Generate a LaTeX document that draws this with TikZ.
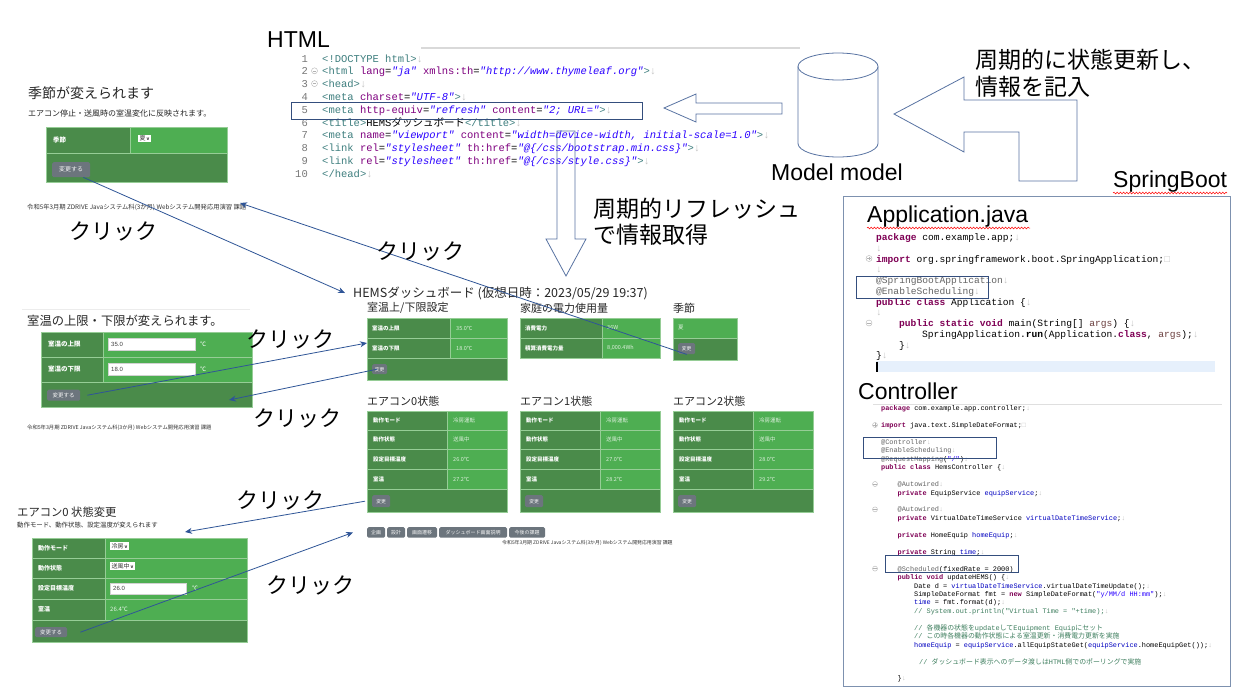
\documentclass[tikz,border=0pt]{standalone}
\usepackage{fontspec}
\setmainfont{Liberation Sans}
\newfontfamily\cjk{Noto Sans CJK JP}
\newfontfamily\code{Liberation Mono}
\usetikzlibrary{positioning, arrows.meta, calc, decorations.pathmorphing}
\definecolor{gdark}{RGB}{74,139,74}
\definecolor{glight}{RGB}{78,174,82}
\definecolor{cellline}{RGB}{150,205,150}
\definecolor{btngray}{RGB}{108,117,125}
\definecolor{clickblue}{RGB}{47,85,151}
\definecolor{arrowline}{RGB}{88,115,162}
\definecolor{boxblue}{RGB}{52,78,125}
\definecolor{framegray}{RGB}{125,145,175}
\definecolor{kwc}{RGB}{127,0,85}
\definecolor{annc}{RGB}{100,100,100}
\definecolor{fieldc}{RGB}{0,0,192}
\definecolor{strc}{RGB}{42,0,255}
\definecolor{cmtc}{RGB}{63,127,95}
\definecolor{tagc}{RGB}{63,127,127}
\definecolor{attrc}{RGB}{127,0,127}
\definecolor{parc}{RGB}{106,62,62}
\definecolor{eolgray}{RGB}{195,195,195}
\definecolor{numgray}{RGB}{120,120,120}
\definecolor{cursorblue}{RGB}{230,240,252}
\newcommand\jp[1]{{\cjk #1}}
\newcommand\eol{\textcolor{eolgray}{↓}}
\newcommand\imbox{\textcolor{eolgray}{□}}
\newcommand\htag[1]{\textcolor{tagc}{#1}}
\newcommand\hkey[1]{\textcolor{attrc}{#1}}
\newcommand\hval[1]{\textcolor{strc}{\itshape #1}}
\newcommand\jkw[1]{\textcolor{kwc}{\bfseries #1}}
\newcommand\jan[1]{\textcolor{annc}{#1}}
\newcommand\jfd[1]{\textcolor{fieldc}{#1}}
\newcommand\jst[1]{\textcolor{strc}{#1}}
\newcommand\jcm[1]{\textcolor{cmtc}{#1}}
\newcommand\jpar[1]{\textcolor{parc}{#1}}
\newcommand\chev{{\fontsize{4.5}{5}\selectfont\bfseries v}}
\tikzset{
  bigtxt/.style={font=\fontsize{23}{26}\selectfont, inner sep=0pt, anchor=base west},
  jtxt/.style={font=\cjk\fontsize{23}{27}\selectfont, inner sep=0pt, anchor=west},
  click/.style={font=\cjk\fontsize{22}{26}\selectfont, inner sep=0pt},
  clk/.style={draw=clickblue, line width=0.8pt, -{Stealth[length=7pt, width=6pt]}},
  hollow/.style={draw=arrowline, line width=0.8pt, fill=white},
  hilite/.style={draw=boxblue, line width=0.9pt},
  html/.style={font=\code\fontsize{10.5}{12}\selectfont, anchor=base west, inner sep=0pt},
  lno/.style={html, anchor=base east, text=numgray},
  japp/.style={font=\code\fontsize{9.6}{11}\selectfont, anchor=base west, inner sep=0pt},
  jctl/.style={font=\code\fontsize{6.9}{8}\selectfont, anchor=base west, inner sep=0pt},
  fold/.style={circle, draw=gray!60, line width=0.4pt, inner sep=0pt, minimum size=#1,
    path picture={\draw[gray!60, line width=0.4pt] ([xshift=-1.6pt]path picture bounding box.center) -- ([xshift=1.6pt]path picture bounding box.center);}},
  foldp/.style={circle, draw=gray!60, line width=0.4pt, inner sep=0pt, minimum size=#1,
    path picture={\draw[gray!60, line width=0.4pt] ([xshift=-1.6pt]path picture bounding box.center) -- ([xshift=1.6pt]path picture bounding box.center)
      ([yshift=-1.6pt]path picture bounding box.center) -- ([yshift=1.6pt]path picture bounding box.center);}},
  hcell/.style={draw=cellline, line width=0.5pt, fill=gdark},
  vcell/.style={draw=cellline, line width=0.5pt, fill=glight},
  ptitle/.style={anchor=west, inner sep=0pt, text=black!85},
  sec/.style={anchor=west, inner sep=0pt, text=black!85, font=\cjk\fontsize{11}{13}\selectfont},
  foot/.style={anchor=west, inner sep=0pt, text=black!80},
  lhtx/.style={anchor=west, inner sep=0pt, text=white, font=\cjk\bfseries\fontsize{6.5}{7}\selectfont},
  lvtx/.style={anchor=west, inner sep=0pt, text=white!85!glight, font=\cjk\fontsize{6}{7}\selectfont},
  dhtx/.style={anchor=west, inner sep=0pt, text=white, font=\cjk\bfseries\fontsize{5.5}{6}\selectfont},
  dvtx/.style={anchor=west, inner sep=0pt, text=white!80!glight, font=\cjk\fontsize{5.5}{6}\selectfont},
  unit/.style={anchor=west, inner sep=0pt, text=white, font=\cjk\fontsize{6}{7}\selectfont},
  inbox/.style={draw=gray!35, fill=white, anchor=north west, inner xsep=3pt, inner ysep=0pt, align=left, text=black!75, font=\fontsize{6}{7}\selectfont},
  selbox/.style={fill=white, anchor=north west, inner xsep=1.5pt, inner ysep=1pt, text=black!80, font=\cjk\fontsize{6}{7}\selectfont},
  btn/.style={fill=btngray, rounded corners=1.5pt, text=white!92!gray, anchor=north west, inner sep=0pt, font=\cjk\fontsize{5.5}{6}\selectfont},
  squiggle/.style={draw=red, line width=0.5pt, decorate, decoration={snake, amplitude=0.9pt, segment length=3.2pt}}
}
\begin{document}
\begin{tikzpicture}[x=1pt, y=-1pt]
\fill[white] (0,0) rectangle (1237,691);
\useasboundingbox (0,0) rectangle (1237,691);

% HTML source
\node[bigtxt] (htmlLbl) at (267,47) {HTML};
\draw[gray!30, line width=1.5pt] (421,48) -- (800,48);
\foreach \i in {1,...,10}
  \node[lno] (hn\i) at (308,{49.2+12.8*\i}) {\i};
\node[fold=6pt] (hf2) at (314.5,70.8) {};
\node[fold=6pt] (hf3) at (314.5,83.6) {};
\node[html] (hl1) at (322,62) {\htag{<!DOCTYPE html>}\eol};
\node[html] (hl2) at (322,74.8) {\htag{<html} \hkey{lang}=\hval{"ja"} \hkey{xmlns:th}=\hval{"http://www.thymeleaf.org"}\htag{>}\eol};
\node[html] (hl3) at (322,87.6) {\htag{<head>}\eol};
\node[html] (hl4) at (322,100.4) {\htag{<meta} \hkey{charset}=\hval{"UTF-8"}\htag{>}\eol};
\node[html] (hl5) at (322,113.2) {\htag{<meta} \hkey{http-equiv}=\hval{"refresh"} \hkey{content}=\hval{"2; URL="}\htag{>}\eol};
\node[html] (hl6) at (322,126) {\htag{<title>}HEMS\jp{ダッシュボード}\htag{</title>}\eol};
\node[html] (hl7) at (322,138.8) {\htag{<meta} \hkey{name}=\hval{"viewport"} \hkey{content}=\hval{"width=device-width, initial-scale=1.0"}\htag{>}\eol};
\node[html] (hl8) at (322,151.6) {\htag{<link} \hkey{rel}=\hval{"stylesheet"} \hkey{th:href}=\hval{"@\{/css/bootstrap.min.css\}"}\htag{>}\eol};
\node[html] (hl9) at (322,164.4) {\htag{<link} \hkey{rel}=\hval{"stylesheet"} \hkey{th:href}=\hval{"@\{/css/style.css\}"}\htag{>}\eol};
\node[html] (hl10) at (322,177.2) {\htag{</head>}\eol};
\draw[hilite] (291,102) rectangle (642,119);

% block arrows and the model
\draw[hollow, fill=none] (557,131) -- (575,131) -- (575,239) -- (586,239) -- (566,276) -- (546,239) -- (557,239) -- cycle;
\draw[hollow] (664,108) -- (696,94) -- (696,103) -- (782,103) -- (782,114) -- (696,114) -- (696,122) -- cycle;
\draw[hollow] (798,66.5) -- (798,143.5) arc[start angle=180, end angle=360, x radius=40pt, y radius=13.5pt] -- (878,66.5);
\draw[hollow] (838,66.5) ellipse [x radius=40pt, y radius=13.5pt];
\node[bigtxt] (modelLbl) at (771,180) {Model model};
\draw[hollow] (894,114) -- (964,77) -- (964,100) -- (1077,100) -- (1077,181) -- (1019,181) -- (1019,132) -- (964,132) -- (964,152) -- cycle;
\node[jtxt] (updLbl1) at (975,60) {周期的に状態更新し、};
\node[jtxt] (updLbl2) at (975,87) {情報を記入};
\node[jtxt] (refLbl1) at (593,209) {周期的リフレッシュ};
\node[jtxt] (refLbl2) at (593,235) {で情報取得};

% SpringBoot side
\node[bigtxt] (springLbl) at (1113,187) {SpringBoot};
\draw[squiggle] (1113,193) -- (1227,193);
\draw[framegray, line width=1pt] (843,196) rectangle (1230,686);
\node[bigtxt] (appLbl) at (867,222) {Application.java};
\draw[squiggle] (867,228) -- (1030,228);
\node[japp] (ap0) at (876,240.5) {\jkw{package} com.example.app;\eol};
\node[japp] (ap1) at (876,251.3) {\eol};
\node[foldp=6pt] (apf2) at (869,258.5) {};
\node[japp] (ap2) at (876,262) {\jkw{import} org.springframework.boot.SpringApplication;\imbox};
\node[japp] (ap3) at (876,272.8) {\eol};
\node[japp] (ap4) at (876,283.5) {\jan{@SpringBootApplication}\eol};
\node[japp] (ap5) at (876,294.3) {\jan{@EnableScheduling}\eol};
\node[japp] (ap6) at (876,305) {\jkw{public class} Application \{\eol};
\node[japp] (ap7) at (876,315.8) {\eol};
\node[fold=6pt] (apf8) at (869,323) {};
\node[japp] (ap8) at (899,326.5) {\jkw{public static void} main(String[] \jpar{args}) \{\eol};
\node[japp] (ap9) at (922,337.3) {SpringApplication.\textbf{run}(Application.\jkw{class}, \jpar{args});\eol};
\node[japp] (ap10) at (899,348) {\}\eol};
\node[japp] (ap11) at (876,358.8) {\}\eol};
\fill[cursorblue] (876,361) rectangle (1215,372);
\draw[black, line width=1.2pt] (877,361.5) -- (877,371.5);
\draw[hilite] (856,276) rectangle (988,298);

\node[bigtxt] (ctlLbl) at (858,399) {Controller};
\draw[gray!25, line width=0.8pt] (873,404) -- (1222,404);
\node[jctl] (ct0) at (881,410.5) {\jkw{package} com.example.app.controller;\eol};
\node[foldp=5pt] (ctf2) at (875,425) {};
\node[jctl] (ct2) at (881,427.4) {\jkw{import} java.text.SimpleDateFormat;\imbox};
\node[jctl] (ct4) at (881,444.3) {\jan{@Controller}\eol};
\node[jctl] (ct5) at (881,452.8) {\jan{@EnableScheduling}\eol};
\node[jctl] (ct6) at (881,461.2) {\jan{@RequestMapping}(\jst{"/"})\eol};
\node[jctl] (ct7) at (881,469.7) {\jkw{public class} HemsController \{\eol};
\node[fold=5pt] (ctf9) at (875,484) {};
\node[jctl] (ct9) at (897.5,486.5) {\jan{@Autowired}\eol};
\node[jctl] (ct10) at (897.5,495) {\jkw{private} EquipService \jfd{equipService};\eol};
\node[fold=5pt] (ctf12) at (875,509.4) {};
\node[jctl] (ct12) at (897.5,511.9) {\jan{@Autowired}\eol};
\node[jctl] (ct13) at (897.5,520.4) {\jkw{private} VirtualDateTimeService \jfd{virtualDateTimeService};\eol};
\node[jctl] (ct15) at (897.5,537.3) {\jkw{private} HomeEquip \jfd{homeEquip};\eol};
\node[jctl] (ct17) at (897.5,554.2) {\jkw{private} String \jfd{time};\eol};
\node[fold=5pt] (ctf19) at (875,568.6) {};
\node[jctl] (ct19) at (897.5,571.1) {\jan{@Scheduled}(fixedRate = 2000)};
\node[jctl] (ct20) at (897.5,579.5) {\jkw{public void} updateHEMS() \{\eol};
\node[jctl] (ct21) at (914,588) {Date d = \jfd{virtualDateTimeService}.virtualDateTimeUpdate();\eol};
\node[jctl] (ct22) at (914,596.4) {SimpleDateFormat fmt = \jkw{new} SimpleDateFormat(\jst{"y/MM/d HH:mm"});\eol};
\node[jctl] (ct23) at (914,604.9) {\jfd{time} = fmt.format(d);\eol};
\node[jctl] (ct24) at (914,613.3) {\jcm{// System.out.println("Virtual Time = "+time);}\eol};
\node[jctl] (ct26) at (914,630.2) {\jcm{// \jp{各機器の状態を}update\jp{して}Equipment Equip\jp{にセット}}};
\node[jctl] (ct27) at (914,638.7) {\jcm{// \jp{この時各機器の動作状態による室温更新・消費電力更新を実施}}};
\node[jctl] (ct28) at (914,647.1) {\jfd{homeEquip} = \jfd{equipService}.allEquipStateGet(\jfd{equipService}.homeEquipGet());\eol};
\node[jctl] (ct30) at (919,664) {\jcm{// \jp{ダッシュボード表示へのデータ渡しは}HTML\jp{側でのポーリングで実施}}};
\node[jctl] (ct32) at (897.5,680.9) {\}\eol};
\draw[hilite] (863,437) rectangle (996,458);
\draw[hilite] (885,555) rectangle (1018,572);

% season change page
\node[ptitle, font=\cjk\fontsize{14}{16}\selectfont] (seasonTitle) at (28,93.5) {季節が変えられます};
\node[ptitle, font=\cjk\fontsize{8}{9}\selectfont] (seasonSub) at (28,113.5) {エアコン停止・送風時の室温変化に反映されます。};
\path[hcell] (46,127) rectangle (130,153);
\path[vcell] (130,127) rectangle (227,153);
\path[hcell] (46,153) rectangle (227,182);
\node[lhtx] (seasonHd) at (53,140) {季節};
\node[selbox] (seasonSel) at (138,135) {夏\,\chev};
\node[btn, minimum width=38pt, minimum height=15pt, font=\cjk\fontsize{6}{7}\selectfont] (btnSeason) at (52,162) {変更する};
\node[foot, font=\cjk\fontsize{6.3}{7}\selectfont] (footA) at (27,207) {令和5年3月期 ZDRIVE Javaシステム科(3か月) Webシステム開発応用演習 課題};

% temperature limit page
\draw[gray!15, line width=0.6pt] (22,309) -- (250,309);
\node[ptitle, font=\cjk\fontsize{12.3}{14}\selectfont] (tempTitle) at (27,321) {室温の上限・下限が変えられます。};
\path[hcell] (41,332) rectangle (103,357);
\path[vcell] (103,332) rectangle (252,357);
\path[hcell] (41,357) rectangle (103,382);
\path[vcell] (103,357) rectangle (252,382);
\path[hcell] (41,382) rectangle (252,407);
\node[lhtx] (tmaxHd) at (48,344.5) {室温の上限};
\node[lhtx] (tminHd) at (48,369.5) {室温の下限};
\node[inbox, text width=81pt, minimum height=12pt] (tmaxIn) at (108,338) {35.0};
\node[inbox, text width=81pt, minimum height=12pt] (tminIn) at (108,363) {18.0};
\node[unit] (tmaxU) at (200,344.5) {℃};
\node[unit] (tminU) at (200,369.5) {℃};
\node[btn, minimum width=33pt, minimum height=11pt] (btnTemp) at (47,389.5) {変更する};
\node[foot, font=\cjk\fontsize{5.3}{6}\selectfont] (footB) at (27,428) {令和5年3月期 ZDRIVE Javaシステム科(3か月) Webシステム開発応用演習 課題};

% air conditioner change page
\node[ptitle, font=\cjk\fontsize{11.3}{13}\selectfont] (chgTitle) at (17,512) {エアコン0 状態変更};
\node[ptitle, font=\cjk\fontsize{6.4}{7}\selectfont] (chgSub) at (17,525) {動作モード、動作状態、設定温度が変えられます};
\foreach \a/\b/\h in {538/558/動作モード, 558/578/動作状態, 578/599/設定目標温度, 599/620/室温} {
  \path[hcell] (32,\a) rectangle (105,\b);
  \path[vcell] (105,\a) rectangle (247,\b);
  \node[lhtx, font=\cjk\bfseries\fontsize{6}{7}\selectfont] (chgHd\a) at (38,{(\a+\b)/2}) {\h};
}
\path[hcell] (32,620) rectangle (247,642);
\node[selbox] (chgMode) at (110,542) {冷房\,\chev};
\node[selbox] (chgState) at (110,562) {送風中\,\chev};
\node[inbox, text width=70pt, minimum height=11pt] (chgTemp) at (110,583) {26.0};
\node[unit] (chgTempU) at (192,588.5) {℃};
\node[lvtx] (chgRoom) at (110,609.5) {26.4℃};
\node[btn, minimum width=32pt, minimum height=10pt] (btnAc) at (35,627) {変更する};

% dashboard
\node[ptitle, font=\cjk\fontsize{12.5}{14}\selectfont] (dashTitle) at (353,293) {HEMSダッシュボード (仮想日時：2023/05/29 19:37)};
\node[sec] (secTemp) at (367,308) {室温上/下限設定};
\node[sec] (secPower) at (520,308) {家庭の電力使用量};
\node[sec] (secSeason) at (673,308) {季節};
\path[hcell] (367,318) rectangle (450,338);
\path[vcell] (450,318) rectangle (507,338);
\path[hcell] (367,338) rectangle (450,358);
\path[vcell] (450,338) rectangle (507,358);
\path[hcell] (367,358) rectangle (507,380);
\node[dhtx] (dTmaxHd) at (372,328) {室温の上限};
\node[dvtx] (dTmax) at (456,328) {35.0℃};
\node[dhtx] (dTminHd) at (372,348) {室温の下限};
\node[dvtx] (dTmin) at (456,348) {18.0℃};
\node[btn, minimum width=15pt, minimum height=10pt, font=\cjk\fontsize{4.8}{5}\selectfont] (btnDashTemp) at (372,364) {変更};
\path[hcell] (520,318) rectangle (602,338);
\path[vcell] (602,318) rectangle (660,338);
\path[hcell] (520,338) rectangle (602,358);
\path[vcell] (602,338) rectangle (660,358);
\node[dhtx] (dPowHd) at (525,328) {消費電力};
\node[dvtx] (dPow) at (607,328) {36W};
\node[dhtx] (dSumHd) at (525,348) {積算消費電力量};
\node[dvtx] (dSum) at (607,348) {8,000.4Wh};
\path[vcell] (673,318) rectangle (737,338);
\path[hcell] (673,338) rectangle (737,360);
\node[dvtx] (dSeason) at (678,328) {夏};
\node[btn, minimum width=17pt, minimum height=11pt, font=\cjk\fontsize{4.8}{5}\selectfont] (btnDashSeason) at (678,343) {変更};
\foreach \x/\n/\tset/\troom in {367/0/26.0/27.2, 520/1/27.0/28.2, 673/2/28.0/29.2} {
  \node[sec] (acSec\n) at (\x,401) {エアコン\n{}状態};
  \foreach \a/\b/\h [count=\rw] in {411/430/動作モード, 430/449/動作状態, 449/469/設定目標温度, 469/489/室温} {
    \path[hcell] (\x,\a) rectangle (\x+80,\b);
    \path[vcell] (\x+80,\a) rectangle (\x+140,\b);
    \node[dhtx] (acHd\n\rw) at (\x+6,{(\a+\b)/2}) {\h};
  }
  \node[dvtx] (acMode\n) at (\x+86,420.5) {冷房運転};
  \node[dvtx] (acState\n) at (\x+86,439.5) {送風中};
  \node[dvtx] (acSet\n) at (\x+86,459) {\tset{}℃};
  \node[dvtx] (acRoom\n) at (\x+86,479) {\troom{}℃};
  \path[hcell] (\x,489) rectangle (\x+140,512);
  \node[btn, minimum width=18pt, minimum height=12pt, font=\cjk\fontsize{4.8}{5}\selectfont] (acBtn\n) at (\x+5,495) {変更};
}
\foreach \a/\b/\lbl [count=\k] in {367/385/企画, 387/405/設計, 407/437/画面遷移, 439/507/ダッシュボード画面説明, 509/545/今後の課題}
  \node[btn, minimum width={(\b-\a)*1pt}, minimum height=10.5pt, font=\cjk\fontsize{5}{6}\selectfont] (nav\k) at (\a,527) {\lbl};
\node[foot, font=\cjk\fontsize{4.9}{6}\selectfont] (footC) at (502,543) {令和5年3月期 ZDRIVE Javaシステム科(3か月) Webシステム開発応用演習 課題};

% click arrows
\coordinate (seasonBack) at (240,203);
\coordinate (tempBack) at (229,400);
\coordinate (acBack) at (185,532);
\draw[clk] ([xshift=-7pt]btnSeason.south east) -- ([xshift=-8pt]dashTitle.west);
\draw[clk] (btnDashSeason.south) -- (seasonBack);
\draw[clk] ([xshift=7pt]btnTemp.east) -- ([xshift=-5pt,yshift=5pt]dTminHd.west);
\draw[clk] ([xshift=5pt]btnDashTemp.west) -- (tempBack);
\draw[clk] ([xshift=-7pt]acBtn0.west) -- (acBack);
\draw[clk] ([xshift=13pt]btnAc.east) -- ([xshift=-14pt]nav1.west);
\node[click] (click1) at (113,231) {クリック};
\node[click] (click2) at (420,251) {クリック};
\node[click] (click3) at (290,339) {クリック};
\node[click] (click4) at (297,418) {クリック};
\node[click] (click5) at (280,500) {クリック};
\node[click] (click6) at (310,585) {クリック};
\end{tikzpicture}
\end{document}
